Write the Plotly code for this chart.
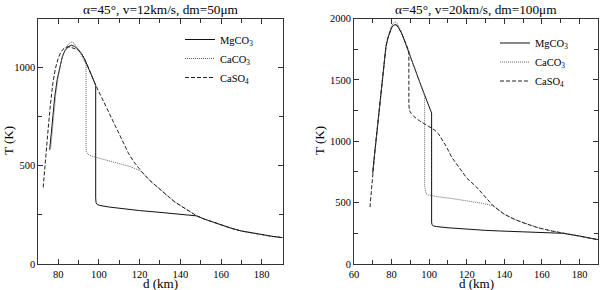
import plotly.graph_objects as go

# ---------------- Left panel: alpha=45°, v=12km/s, dm=50µm ----------------
mg_left_d = [75.8, 77.0, 78.3, 79.5, 80.7, 82.0, 83.2, 84.8, 86.4, 88.0, 89.7, 91.3, 93.0, 94.6, 96.5, 98.4,
             98.4, 98.6, 99.2, 100.5, 105, 110, 120, 130, 140, 148, 152, 155, 160, 165, 170, 174.3, 180, 185, 190.3]
mg_left_T = [581, 720, 852, 940, 1005, 1055, 1085, 1105, 1114, 1108, 1094, 1073, 1042, 1005, 955, 910,
             335, 312, 303, 298, 290, 283, 272, 263, 255, 245, 228, 217, 199, 182, 168, 160, 150, 141, 134]

ca_left_d = [76.3, 77.5, 78.8, 80.0, 81.3, 82.6, 84.0, 85.2, 86.4, 87.8, 89.2, 90.6, 92.0, 93.2, 93.65,
             93.65, 93.8, 94.5, 95.5, 97.2, 100.5, 107, 111, 115.3, 118, 121, 125, 130, 133.3, 137, 140, 144,
             148, 152, 155, 160, 165, 170, 174.3, 180, 185, 190.3]
ca_left_T = [589, 735, 865, 955, 1025, 1070, 1105, 1122, 1130, 1124, 1102, 1078, 1050, 1025, 1015,
             600, 572, 560, 553, 547, 538, 521, 510, 496, 485, 470, 425, 380, 351, 318, 298, 270,
             245, 228, 217, 199, 182, 168, 160, 150, 141, 134]

so_left_d = [72.6, 73.5, 75.0, 76.2, 77.4, 78.6, 79.9, 81.1, 82.3, 83.5, 84.5, 86.0, 87.5, 89.7, 91.3, 93.0,
             94.6, 96.5, 98.4, 101, 103, 106, 110, 114.5, 117, 121, 125, 130, 133.3, 137, 140, 144, 148, 152,
             155, 160, 165, 170, 174.3, 180, 185, 190.3]
so_left_T = [390, 520, 683, 815, 925, 995, 1045, 1075, 1093, 1103, 1106, 1104, 1098, 1090, 1073, 1042,
             1005, 955, 910, 855, 812, 748, 660, 564, 522, 470, 425, 380, 351, 318, 298, 270, 245, 228,
             217, 199, 182, 168, 160, 150, 141, 134]

# ---------------- Right panel: alpha=45°, v=20km/s, dm=100µm ----------------
mg_right_d = [69.9, 71, 72, 73, 74, 75, 76, 77, 78, 79, 80, 81, 82, 83, 84, 85, 86, 87, 88, 89.2, 91, 93, 95,
              97, 99, 101.3, 101.3, 101.5, 102.2, 103.9, 110, 120, 130, 137.5, 145, 155, 165, 171.2, 180, 190]
mg_right_T = [740, 900, 1050, 1190, 1330, 1480, 1640, 1770, 1840, 1890, 1925, 1945, 1950, 1942, 1920, 1890,
              1855, 1815, 1770, 1733, 1650, 1565, 1480, 1395, 1315, 1230, 340, 320, 310, 305, 295, 283, 274,
              269, 264, 258, 252, 250, 228, 198]

ca_right_d = [69.9, 71, 72, 73, 74, 75, 76, 77, 78, 79, 80, 81, 82, 83, 84, 85, 86, 87, 88, 89.2, 91, 93, 95,
              97.6, 97.6, 97.8, 98.3, 99.5, 102, 105, 111, 117, 123.4, 128, 134, 140, 146, 152, 158, 165,
              172, 180, 190]
ca_right_T = [740, 900, 1050, 1190, 1330, 1480, 1640, 1775, 1850, 1905, 1942, 1963, 1970, 1960, 1935, 1900,
              1862, 1820, 1775, 1733, 1650, 1565, 1480, 1370, 640, 600, 575, 563, 553, 547, 536, 523, 509,
              495, 475, 405, 360, 325, 295, 270, 250, 228, 198]

so_right_d = [68.5, 69.2, 69.9, 71, 72, 73, 74, 75, 76, 77, 78, 79, 80, 81, 82, 83, 84, 85, 86, 87, 88, 89.2,
              89.2, 89.5, 90.5, 92, 95, 98, 101, 103, 105, 107, 109, 112, 116, 120, 125, 130, 134, 140, 146,
              152, 158, 165, 172, 180, 190]
so_right_T = [463, 600, 740, 900, 1050, 1190, 1330, 1480, 1640, 1770, 1840, 1890, 1925, 1945, 1950, 1942,
              1920, 1890, 1855, 1815, 1770, 1733, 1300, 1250, 1225, 1200, 1165, 1135, 1110, 1090, 1060, 1015,
              960, 870, 780, 700, 630, 545, 475, 405, 360, 325, 295, 270, 250, 228, 198]

series_names = ["MgCO<sub>3</sub>", "CaCO<sub>3</sub>", "CaSO<sub>4</sub>"]
panel_titles = ["α=45°, v=12km/s, dm=50μm", "α=45°, v=20km/s, dm=100μm"]

FONT = "Liberation Serif"
styles = [dict(color="#111111", width=1, dash="solid"),
          dict(color="#666666", width=1, dash="1px,1px"),
          dict(color="#222222", width=1, dash="4px,2px")]

fig = go.Figure()
left = [(mg_left_d, mg_left_T), (ca_left_d, ca_left_T), (so_left_d, so_left_T)]
right = [(mg_right_d, mg_right_T), (ca_right_d, ca_right_T), (so_right_d, so_right_T)]
for i, (d, T) in enumerate(left):
    fig.add_trace(go.Scatter(x=d, y=T, mode="lines", name=series_names[i], line=styles[i],
                             xaxis="x", yaxis="y", legend="legend"))
for i, (d, T) in enumerate(right):
    fig.add_trace(go.Scatter(x=d, y=T, mode="lines", name=series_names[i], line=styles[i],
                             xaxis="x2", yaxis="y2", legend="legend2"))

ydom = [1 - 264 / 290, 1 - 18.5 / 290]
axis_common = dict(showline=True, linecolor="#333333", linewidth=1, mirror="ticks", ticks="inside",
                   ticklen=5, tickcolor="#333333", showgrid=False, zeroline=False, automargin=False,
                   tickfont=dict(family=FONT, size=10.5, color="#000"),
                   minor=dict(ticks="inside", ticklen=4, tickcolor="#333333", showgrid=False))

fig.update_layout(
    width=600, height=290,
    margin=dict(l=0, r=0, t=0, b=0, pad=0, autoexpand=False),
    paper_bgcolor="white", plot_bgcolor="white",
    font=dict(family=FONT, size=11, color="#000"),
    xaxis=dict(domain=[38.3 / 600, 282.7 / 600], range=[70.2, 190.3], anchor="y",
               tick0=0, dtick=20, **axis_common),
    yaxis=dict(domain=ydom, range=[0, 1250], anchor="x", tick0=0, dtick=500, **axis_common),
    xaxis2=dict(domain=[354 / 600, 598.3 / 600], range=[60, 190], anchor="y2",
                tick0=0, dtick=20, **axis_common),
    yaxis2=dict(domain=ydom, range=[0, 2000], anchor="x2", tick0=0, dtick=500, **axis_common),
    legend=dict(x=180 / 600, xanchor="left", y=1 - 58.5 / 290, yanchor="middle",
                bgcolor="rgba(0,0,0,0)", font=dict(family=FONT, size=10.5), itemwidth=30),
    legend2=dict(x=495 / 600, xanchor="left", y=1 - 62 / 290, yanchor="middle",
                 bgcolor="rgba(0,0,0,0)", font=dict(family=FONT, size=10.5), itemwidth=30),
    showlegend=True,
)
for k in ["xaxis", "xaxis2", "yaxis", "yaxis2"]:
    fig.layout[k].minor.dtick = 10 if k.startswith("x") else 250

ann = []
centers = [(38.3 + 282.7) / 2 / 600, (354 + 598.3) / 2 / 600]
for c, t in zip(centers, panel_titles):
    ann.append(dict(text=t, x=c, y=1 - 10 / 290, xref="paper", yref="paper", showarrow=False,
                    xanchor="center", yanchor="middle", font=dict(family=FONT, size=13.3)))
    ann.append(dict(text="d (km)", x=c, y=1 - 283 / 290, xref="paper", yref="paper", showarrow=False,
                    xanchor="center", yanchor="middle", font=dict(family=FONT, size=13)))
for xp in [8 / 600, 319 / 600]:
    ann.append(dict(text="T (K)", x=xp, y=1 - 141 / 290, xref="paper", yref="paper", showarrow=False,
                    textangle=-90, xanchor="center", yanchor="middle", font=dict(family=FONT, size=13)))
fig.update_layout(annotations=ann)

fig.write_html("out.html", config={"displayModeBar": False},
               post_script="document.body.style.margin='0';document.body.style.overflow='hidden';")
